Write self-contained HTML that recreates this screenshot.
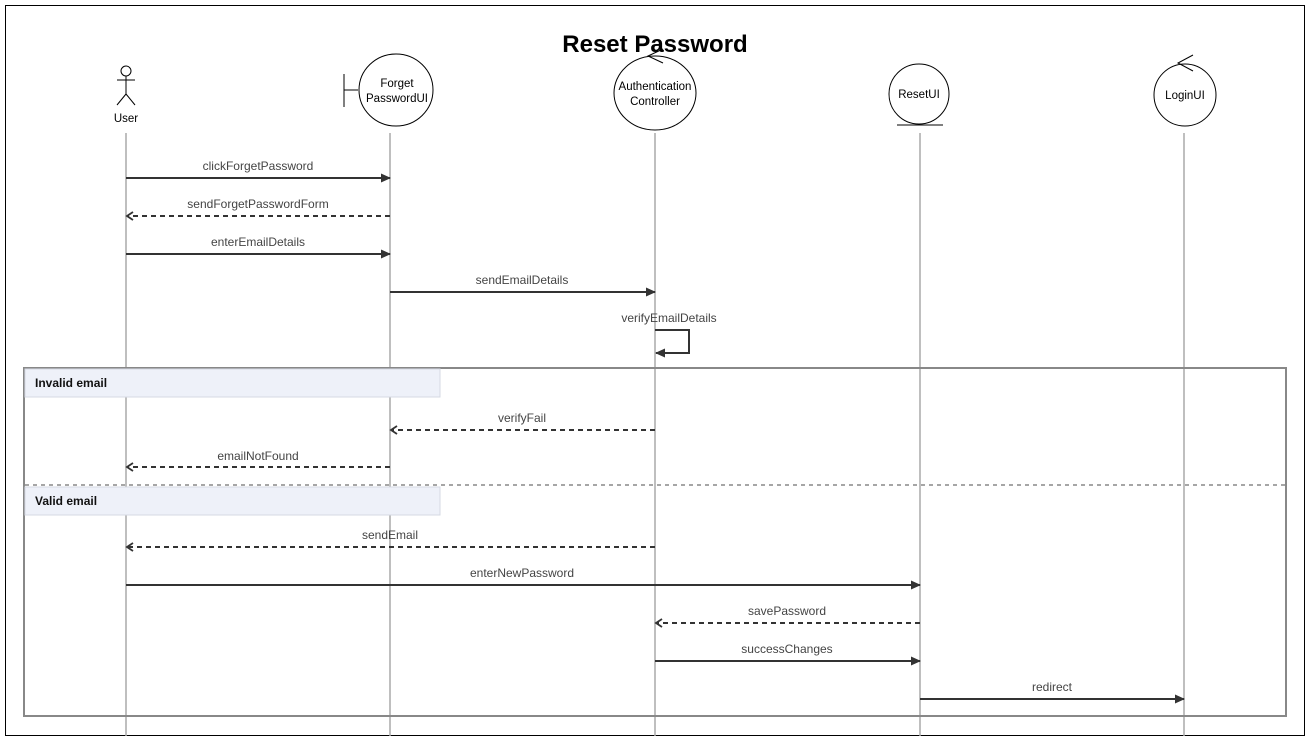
<!DOCTYPE html>
<html><head><meta charset="utf-8"><style>
html,body{margin:0;padding:0;background:#fff;}
svg{display:block;}
.lbl{font-family:"Liberation Sans",sans-serif;font-size:12px;fill:#444;text-anchor:middle;}
.pl{font-family:"Liberation Sans",sans-serif;font-size:11.5px;fill:#000;text-anchor:middle;}
</style></head><body>
<svg width="1312" height="741" viewBox="0 0 1312 741" xmlns="http://www.w3.org/2000/svg">
<defs>
<marker id="f" markerWidth="10" markerHeight="10" refX="9" refY="5" orient="auto" markerUnits="userSpaceOnUse"><path d="M0,0.5 L10,5 L0,9.5 z" fill="#333"/></marker>
<marker id="o" markerWidth="10" markerHeight="10" refX="8" refY="5" orient="auto" markerUnits="userSpaceOnUse"><path d="M2,1 L8,5 L2,9" fill="none" stroke="#333" stroke-width="1.8"/></marker>
</defs>
<rect x="5.5" y="5.5" width="1299" height="730" fill="#fff" stroke="#000" stroke-width="1"/>
<text x="655" y="52" font-family="Liberation Sans,sans-serif" font-size="24" font-weight="bold" text-anchor="middle" fill="#000">Reset Password</text>

<g stroke="#aaa" stroke-width="1.5">
<line x1="126" y1="133" x2="126" y2="736"/>
<line x1="390" y1="133" x2="390" y2="736"/>
<line x1="655" y1="133" x2="655" y2="736"/>
<line x1="920" y1="133" x2="920" y2="736"/>
<line x1="1184" y1="133" x2="1184" y2="736"/>
</g>

<g stroke="#000" stroke-width="1" fill="none">
<circle cx="126" cy="71" r="5"/>
<line x1="126" y1="76" x2="126" y2="94"/>
<line x1="117" y1="80" x2="135" y2="80"/>
<line x1="126" y1="94" x2="117" y2="105"/>
<line x1="126" y1="94" x2="135" y2="105"/>
</g>
<text x="126" y="122" class="pl">User</text>

<g stroke="#000" stroke-width="1" fill="#fff">
<line x1="344" y1="74" x2="344" y2="107"/>
<line x1="344" y1="90" x2="358" y2="90"/>
<ellipse cx="396" cy="90" rx="37" ry="36"/>
</g>
<text x="397" y="87" class="pl">Forget</text>
<text x="397" y="102" class="pl">PasswordUI</text>

<g stroke="#000" stroke-width="1" fill="#fff">
<ellipse cx="655" cy="93" rx="41" ry="37"/>
<path d="M663,49 L648,56 L663,63" fill="none"/>
</g>
<text x="655" y="90" class="pl">Authentication</text>
<text x="655" y="105" class="pl">Controller</text>

<g stroke="#000" stroke-width="1" fill="#fff">
<circle cx="919" cy="94" r="30"/>
<line x1="897" y1="125" x2="943" y2="125"/>
</g>
<text x="919" y="98" class="pl">ResetUI</text>

<g stroke="#000" stroke-width="1" fill="#fff">
<circle cx="1185" cy="95" r="31"/>
<path d="M1193,55 L1178,63 L1193,71" fill="none"/>
</g>
<text x="1185" y="99" class="pl">LoginUI</text>

<rect x="24" y="368" width="1262" height="348" fill="none" stroke="#888" stroke-width="2"/>
<rect x="25" y="369" width="415" height="28" fill="#eef1f9" stroke="#d5d9e3" stroke-width="1"/>
<text x="35" y="387" font-family="Liberation Sans,sans-serif" font-size="12" font-weight="bold" fill="#111">Invalid email</text>
<line x1="25" y1="485" x2="1285" y2="485" stroke="#888" stroke-width="1.5" stroke-dasharray="4,4"/>
<rect x="25" y="487" width="415" height="28" fill="#eef1f9" stroke="#d5d9e3" stroke-width="1"/>
<text x="35" y="505" font-family="Liberation Sans,sans-serif" font-size="12" font-weight="bold" fill="#111">Valid email</text>

<g stroke="#333" stroke-width="2" fill="none">
<line x1="126" y1="178" x2="390" y2="178" marker-end="url(#f)"/>
<line x1="390" y1="216" x2="127" y2="216" stroke-dasharray="5,4" marker-end="url(#o)"/>
<line x1="126" y1="254" x2="390" y2="254" marker-end="url(#f)"/>
<line x1="390" y1="292" x2="655" y2="292" marker-end="url(#f)"/>
<path d="M655,330 L689,330 L689,353 L656,353" marker-end="url(#f)"/>
<line x1="655" y1="430" x2="391" y2="430" stroke-dasharray="5,4" marker-end="url(#o)"/>
<line x1="390" y1="467" x2="127" y2="467" stroke-dasharray="5,4" marker-end="url(#o)"/>
<line x1="655" y1="547" x2="127" y2="547" stroke-dasharray="5,4" marker-end="url(#o)"/>
<line x1="126" y1="585" x2="920" y2="585" marker-end="url(#f)"/>
<line x1="920" y1="623" x2="656" y2="623" stroke-dasharray="5,4" marker-end="url(#o)"/>
<line x1="655" y1="661" x2="920" y2="661" marker-end="url(#f)"/>
<line x1="920" y1="699" x2="1184" y2="699" marker-end="url(#f)"/>
</g>
<text x="258" y="170" class="lbl">clickForgetPassword</text>
<text x="258" y="208" class="lbl">sendForgetPasswordForm</text>
<text x="258" y="246" class="lbl">enterEmailDetails</text>
<text x="522" y="284" class="lbl">sendEmailDetails</text>
<text x="669" y="322" class="lbl">verifyEmailDetails</text>
<text x="522" y="422" class="lbl">verifyFail</text>
<text x="258" y="460" class="lbl">emailNotFound</text>
<text x="390" y="539" class="lbl">sendEmail</text>
<text x="522" y="577" class="lbl">enterNewPassword</text>
<text x="787" y="615" class="lbl">savePassword</text>
<text x="787" y="653" class="lbl">successChanges</text>
<text x="1052" y="691" class="lbl">redirect</text>
</svg>
</body></html>
